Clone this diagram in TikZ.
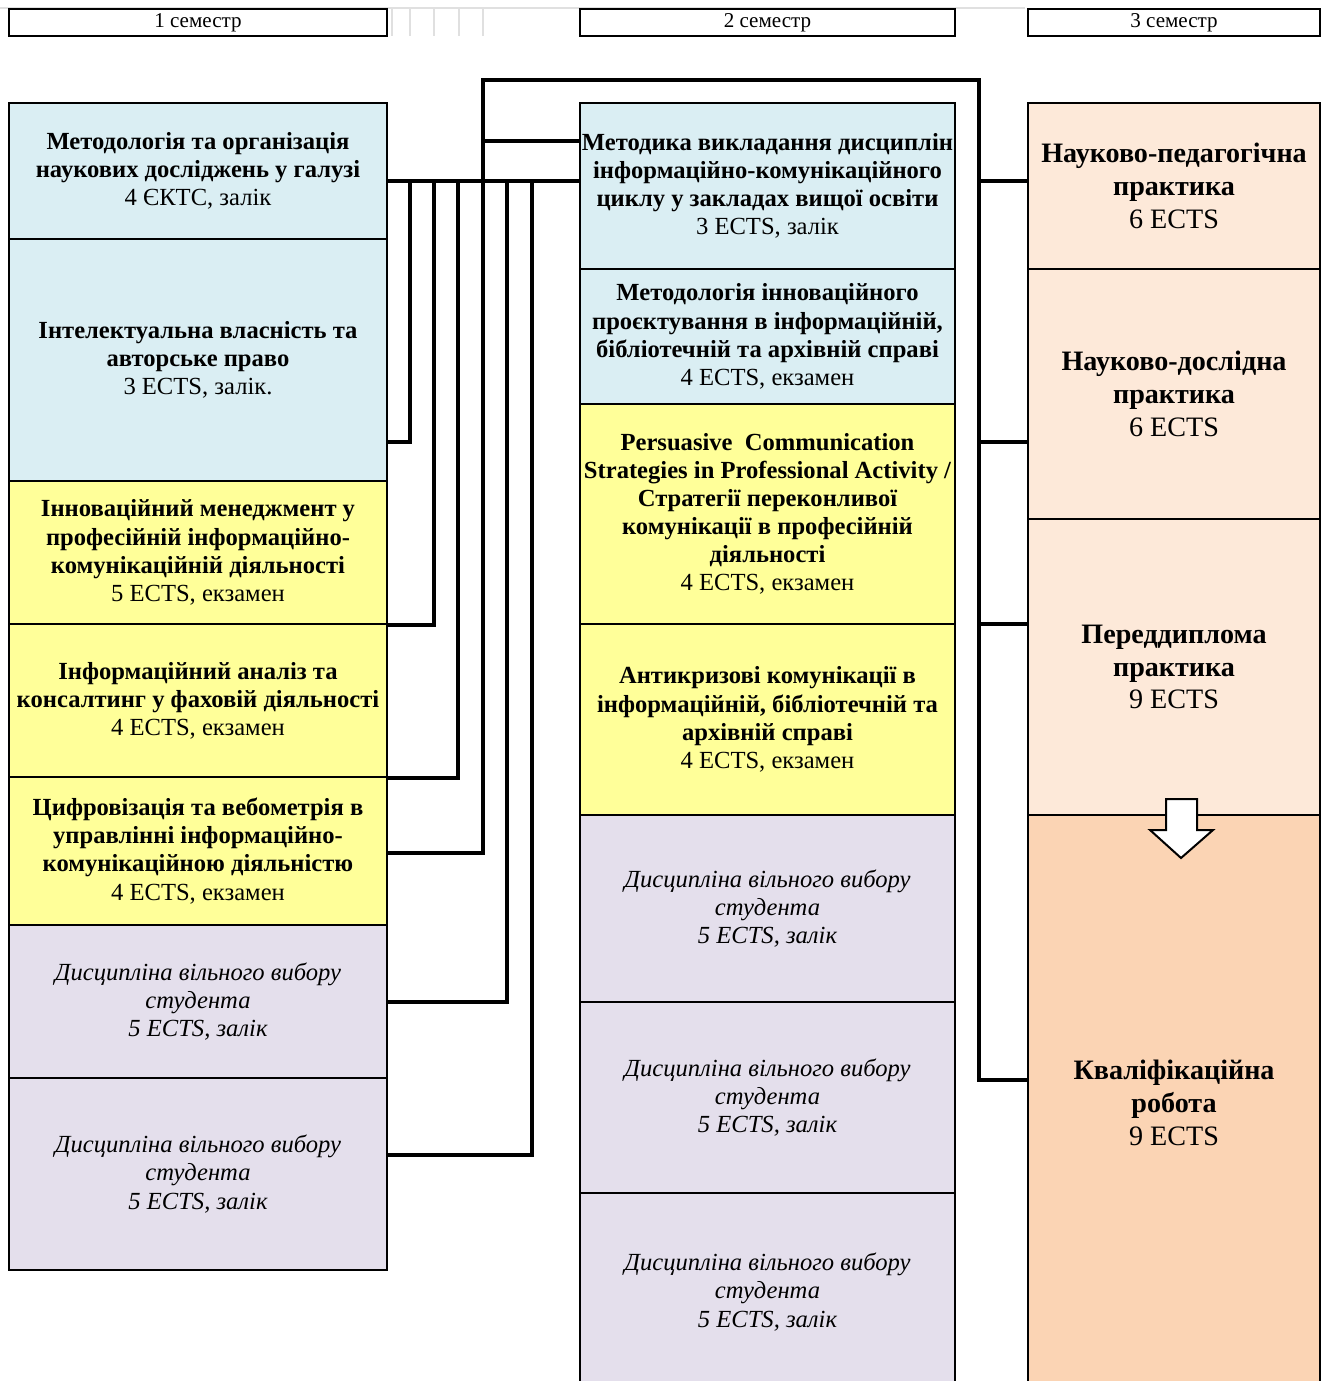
\documentclass[tikz,border=0pt]{standalone}
\usepackage{fontspec}
\setmainfont{Liberation Serif}
\usepackage{xcolor}
\usepackage{tikz}
\usetikzlibrary{arrows}

\definecolor{cblue}{HTML}{DAEEF3}
\definecolor{cyellow}{HTML}{FFFF99}
\definecolor{clav}{HTML}{E4DFEC}
\definecolor{cpeach}{HTML}{FDE9D9}
\definecolor{corange}{HTML}{FBD4B4}

\begin{document}
\begin{tikzpicture}[x=0.02cm, y=-0.02cm,
    box/.style={draw, line width=0.4mm, inner sep=0pt, align=center,
        font=\fontsize{14}{16}\selectfont\bfseries},
    freebox/.style={box, fill=clav, font=\fontsize{14}{16}\selectfont\itshape},
    prbox/.style={box, font=\fontsize{16}{18.7}\selectfont\bfseries, minimum width=5.84cm},
    head/.style={draw, line width=0.55mm, inner sep=0pt, minimum height=0.54cm,
        font=\fontsize{12}{14}\selectfont},
    link/.style={line width=0.9mm},
    faint/.style={black!12, line width=0.3mm}]
    \useasboundingbox (0,0) rectangle (1322,1381);

    % table leftovers
    \draw[faint] (0,8) -- (1025,8);
    \foreach \x in {392,410,434,459,483}{
        \draw[faint] (\x,9) -- (\x,36);
    }

    % semesters
    \node[head, minimum width=7.56cm] (h1) at (198,22.5) {1 семестр};
    \node[head, minimum width=7.5cm] (h2) at (767.5,22.5) {2 семестр};
    \node[head, minimum width=5.84cm] (h3) at (1174,22.5) {3 семестр};

    % 1 semester
    \node[box, fill=cblue, minimum width=7.56cm, minimum height=2.72cm] (c1a) at (198,171)
        {Методологія та організація\\наукових досліджень у галузі\\\mdseries 4 ЄКТС, залік};
    \node[box, fill=cblue, minimum width=7.56cm, minimum height=4.84cm] (c1b) at (198,360)
        {Інтелектуальна власність та\\авторське право\\\mdseries 3 ECTS, залік.};
    \node[box, fill=cyellow, minimum width=7.56cm, minimum height=2.86cm] (c1c) at (198,552.5)
        {Інноваційний менеджмент у\\професійній інформаційно-\\комунікаційній діяльності\\\mdseries 5 ECTS, екзамен};
    \node[box, fill=cyellow, minimum width=7.56cm, minimum height=3.06cm] (c1d) at (198,700.5)
        {Інформаційний аналіз та\\консалтинг у фаховій діяльності\\\mdseries 4 ECTS, екзамен};
    \node[box, fill=cyellow, minimum width=7.56cm, minimum height=2.96cm] (c1e) at (198,851)
        {Цифровізація та вебометрія в\\управлінні інформаційно-\\комунікаційною діяльністю\\\mdseries 4 ECTS, екзамен};
    \node[freebox, minimum width=7.56cm, minimum height=3.06cm] (c1f) at (198,1001.5)
        {Дисципліна вільного вибору\\студента\\5 ECTS, залік};
    \node[freebox, minimum width=7.56cm, minimum height=3.84cm] (c1g) at (198,1174)
        {Дисципліна вільного вибору\\студента\\5 ECTS, залік};

    % 2 semester
    \node[box, fill=cblue, minimum width=7.5cm, minimum height=3.32cm] (c2a) at (767.5,186)
        {Методика викладання дисциплін\\інформаційно-комунікаційного\\циклу у закладах вищої освіти\\\mdseries 3 ECTS, залік};
    \node[box, fill=cblue, minimum width=7.5cm, minimum height=2.7cm] (c2b) at (767.5,336.5)
        {Методологія інноваційного\\проєктування в інформаційній,\\бібліотечній та архівній справі\\\mdseries 4 ECTS, екзамен};
    \node[box, fill=cyellow, minimum width=7.5cm, minimum height=4.4cm] (c2c) at (767.5,514)
        {Persuasive\ \ Communication\\Strategies in Professional Activity /\\Стратегії переконливої\\комунікації в професійній\\діяльності\\\mdseries 4 ECTS, екзамен};
    \node[box, fill=cyellow, minimum width=7.5cm, minimum height=3.82cm] (c2d) at (767.5,719.5)
        {Антикризові комунікації в\\інформаційній, бібліотечній та\\архівній справі\\\mdseries 4 ECTS, екзамен};
    \node[freebox, minimum width=7.5cm, minimum height=3.74cm] (c2e) at (767.5,908.5)
        {Дисципліна вільного вибору\\студента\\5 ECTS, залік};
    \node[freebox, minimum width=7.5cm, minimum height=3.82cm] (c2f) at (767.5,1097.5)
        {Дисципліна вільного вибору\\студента\\5 ECTS, залік};
    \node[freebox, minimum width=7.5cm, minimum height=3.96cm] (c2g) at (767.5,1292)
        {Дисципліна вільного вибору\\студента\\5 ECTS, залік};

    % 3 semester
    \node[prbox, fill=cpeach, minimum height=3.32cm] (d1) at (1174,186)
        {Науково-педагогічна\\практика\\\mdseries 6 ECTS};
    \node[prbox, fill=cpeach, minimum height=5cm] (d2) at (1174,394)
        {Науково-дослідна\\практика\\\mdseries 6 ECTS};
    \node[prbox, fill=cpeach, minimum height=5.92cm] (d3) at (1174,667)
        {Переддиплома\\практика\\\mdseries 9 ECTS};
    \node[prbox, fill=corange, minimum height=11.52cm] (d4) at (1174,1103)
        {Кваліфікаційна\\робота\\\mdseries 9 ECTS};

    % arrow into the thesis
    \draw[line width=0.4mm, fill=white] (1166,799) -- (1197,799) -- (1197,830) -- (1213,830)
        -- (1181,858) -- (1150,830) -- (1166,830) -- cycle;

    % links
    \draw[link] (c1a.east |- 0,181) -- (c2a.west |- 0,181);
    \draw[link] (c1b.east |- 0,442) -| (410,181);
    \draw[link] (c1c.south east) -| (434,181);
    \draw[link] (c1d.south east) -| (458,181);
    \draw[link] (c1e.east |- 0,853) -| (483,80) -- (979,80) |- (d4.west |- 0,1080);
    \draw[link] (c1f.east |- 0,1002) -| (507,181);
    \draw[link] (c1g.east |- 0,1155) -| (532,181);
    \draw[link] (483,141) -- (c2a.west |- 0,141);
    \foreach \y/\n in {181/d1,442/d2,624/d3}{
        \draw[link] (979,\y) -- (\n.west |- 0,\y);
    }
\end{tikzpicture}
\end{document}
